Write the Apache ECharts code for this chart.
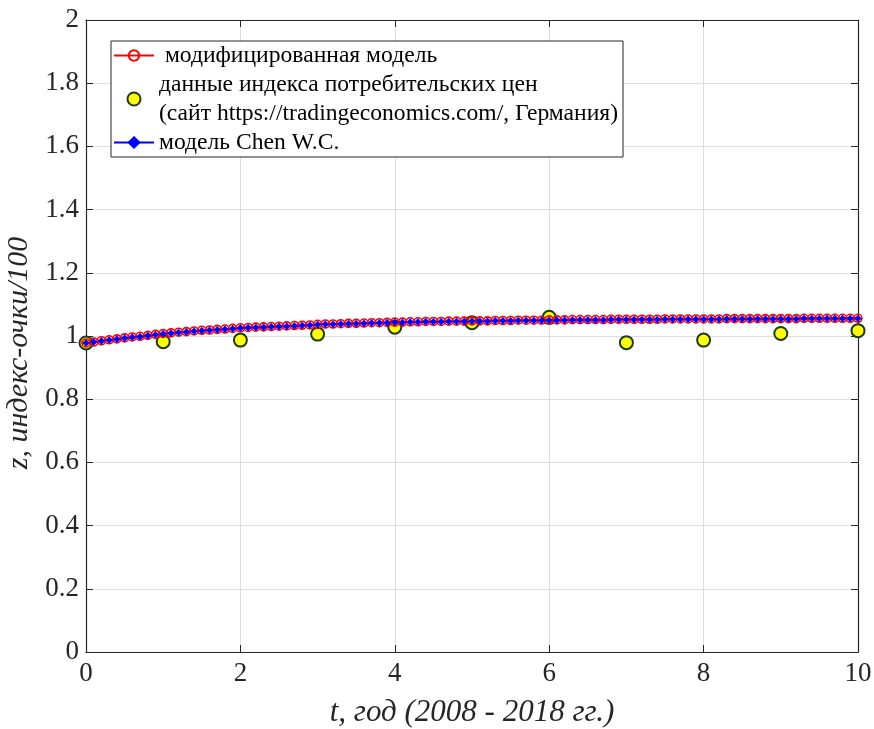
<!DOCTYPE html>
<html>
<head>
<meta charset="utf-8">
<script src="https://cdn.jsdelivr.net/npm/echarts@6/dist/echarts.min.js"></script>
<style>html,body{margin:0;padding:0;background:#fff}#c{width:874px;height:729px}</style>
</head>
<body>
<div id="c"></div>
<script>
var tModel = [0.0,0.1,0.2,0.3,0.4,0.5,0.6,0.7,0.8,0.9,
1.0,1.1,1.2,1.3,1.4,1.5,1.6,1.7,1.8,1.9,
2.0,2.1,2.2,2.3,2.4,2.5,2.6,2.7,2.8,2.9,
3.0,3.1,3.2,3.3,3.4,3.5,3.6,3.7,3.8,3.9,
4.0,4.1,4.2,4.3,4.4,4.5,4.6,4.7,4.8,4.9,
5.0,5.1,5.2,5.3,5.4,5.5,5.6,5.7,5.8,5.9,
6.0,6.1,6.2,6.3,6.4,6.5,6.6,6.7,6.8,6.9,
7.0,7.1,7.2,7.3,7.4,7.5,7.6,7.7,7.8,7.9,
8.0,8.1,8.2,8.3,8.4,8.5,8.6,8.7,8.8,8.9,
9.0,9.1,9.2,9.3,9.4,9.5,9.6,9.7,9.8,9.9,10.0];

var modifiedModel = [0.978,0.981,0.985,0.988,0.991,0.994,0.997,0.999,1.002,1.005,
1.008,1.010,1.012,1.014,1.016,1.018,1.019,1.021,1.022,1.024,
1.026,1.027,1.028,1.029,1.030,1.031,1.032,1.033,1.034,1.035,
1.037,1.038,1.038,1.039,1.040,1.040,1.041,1.042,1.042,1.043,
1.044,1.044,1.045,1.045,1.046,1.046,1.046,1.047,1.047,1.047,
1.048,1.048,1.048,1.049,1.049,1.049,1.050,1.050,1.050,1.050,
1.051,1.051,1.051,1.052,1.052,1.052,1.052,1.052,1.053,1.053,
1.053,1.053,1.053,1.053,1.053,1.054,1.054,1.054,1.054,1.054,
1.054,1.054,1.054,1.055,1.055,1.055,1.055,1.055,1.055,1.055,
1.055,1.055,1.055,1.056,1.056,1.056,1.056,1.056,1.056,1.056,1.056];

var chenModel = [0.978,0.981,0.984,0.987,0.990,0.993,0.996,0.998,1.001,1.004,
1.007,1.009,1.011,1.013,1.015,1.017,1.018,1.020,1.021,1.023,
1.025,1.026,1.027,1.028,1.029,1.030,1.031,1.032,1.033,1.034,
1.036,1.037,1.037,1.038,1.039,1.039,1.040,1.041,1.041,1.042,
1.043,1.043,1.044,1.044,1.045,1.045,1.045,1.046,1.046,1.046,
1.047,1.047,1.047,1.048,1.048,1.048,1.049,1.049,1.049,1.049,
1.050,1.050,1.050,1.051,1.051,1.051,1.051,1.051,1.052,1.052,
1.052,1.052,1.052,1.052,1.052,1.053,1.053,1.053,1.053,1.053,
1.053,1.053,1.053,1.054,1.054,1.054,1.054,1.054,1.054,1.054,
1.054,1.054,1.054,1.055,1.055,1.055,1.055,1.055,1.055,1.055,1.055];

var tData = [0,1,2,3,4,5,6,7,8,9,10];
var cpiData = [0.978,0.982,0.987,1.006,1.028,1.042,1.059,0.979,0.987,1.008,1.017];

var nameModified = ' модифицированная модель';
var nameCpi = 'данные индекса потребительских цен\n(сайт https://tradingeconomics.com/, Германия)';
var nameChen = 'модель Chen W.C.';

var FONT = '"Liberation Serif","Times New Roman",serif';
var AX = '#262626';

function pairs(xs, ys){ var r=[]; for (var i=0;i<xs.length;i++) r.push([xs[i], ys[i]]); return r; }

var chart = echarts.init(document.getElementById('c'), null, {renderer:'canvas'});
chart.setOption({
  animation:false,
  backgroundColor:'#fff',
  grid:{left:86, right:16, top:20, bottom:77, show:false, containLabel:false, outerBoundsMode:'none'},
  legend:{
    orient:'vertical', left:111, top:41,
    itemWidth:40, itemHeight:13, itemGap:0,
    padding:[0,5,0,2],
    borderColor:AX, borderWidth:1, backgroundColor:'#fff',
    textStyle:{fontFamily:FONT, fontSize:23.6, lineHeight:29, color:'#000'},
    data:[nameModified, nameCpi, nameChen]
  },
  xAxis:[{
    type:'value', min:0, max:10, interval:2, position:'bottom',
    axisLine:{show:true, onZero:false, lineStyle:{color:AX, width:1.2}},
    axisTick:{show:true, inside:true, length:7, lineStyle:{color:AX}},
    axisLabel:{fontFamily:FONT, fontSize:27, color:AX, margin:8},
    splitLine:{show:true, lineStyle:{color:'#dedede', width:1}},
    name:'t, год (2008 - 2018 гг.)', nameLocation:'middle', nameGap:45,
    nameTextStyle:{fontFamily:FONT, fontSize:31, fontStyle:'italic', color:AX}
  },{
    type:'value', min:0, max:10, interval:2, position:'top',
    axisLine:{show:true, onZero:false, lineStyle:{color:AX, width:1.2}},
    axisTick:{show:true, inside:true, length:7, lineStyle:{color:AX}},
    axisLabel:{show:false}, splitLine:{show:false}
  }],
  yAxis:[{
    type:'value', min:0, max:2, interval:0.2, position:'left',
    axisLine:{show:true, onZero:false, lineStyle:{color:AX, width:1.2}},
    axisTick:{show:true, inside:true, length:7, lineStyle:{color:AX}},
    axisLabel:{fontFamily:FONT, fontSize:27, color:AX, margin:7},
    splitLine:{show:true, lineStyle:{color:'#dedede', width:1}},
    name:'z, индекс-очки/100', nameLocation:'middle', nameGap:46, nameRotate:90,
    nameTextStyle:{fontFamily:FONT, fontSize:30, fontStyle:'italic', color:AX, padding:[0,34,0,0]}
  },{
    type:'value', min:0, max:2, interval:0.2, position:'right',
    axisLine:{show:true, onZero:false, lineStyle:{color:AX, width:1.2}},
    axisTick:{show:true, inside:true, length:7, lineStyle:{color:AX}},
    axisLabel:{show:false}, splitLine:{show:false}
  }],
  series:[{
    name:nameModified, type:'line', data:pairs(tModel, modifiedModel),
    symbol:'circle', symbolSize:8, showAllSymbol:true,
    lineStyle:{color:'#ff0000', width:1.5},
    itemStyle:{color:'rgba(255,255,255,0)', borderColor:'#ff0000', borderWidth:1.6},
    emphasis:{disabled:true}
  },{
    name:nameCpi, type:'scatter', data:pairs(tData, cpiData),
    symbol:'circle', symbolSize:13,
    itemStyle:{color:'#ffff00', borderColor:'#1c3a1c', borderWidth:2, opacity:1},
    emphasis:{disabled:true}
  },{
    name:nameChen, type:'line', data:pairs(tModel, chenModel),
    symbol:'diamond', symbolSize:7, showAllSymbol:true,
    lineStyle:{color:'#0000ff', width:1.5},
    itemStyle:{color:'#0000ff', borderColor:'#0000ff', borderWidth:0.5},
    emphasis:{disabled:true}
  }]
});
</script>
</body>
</html>
